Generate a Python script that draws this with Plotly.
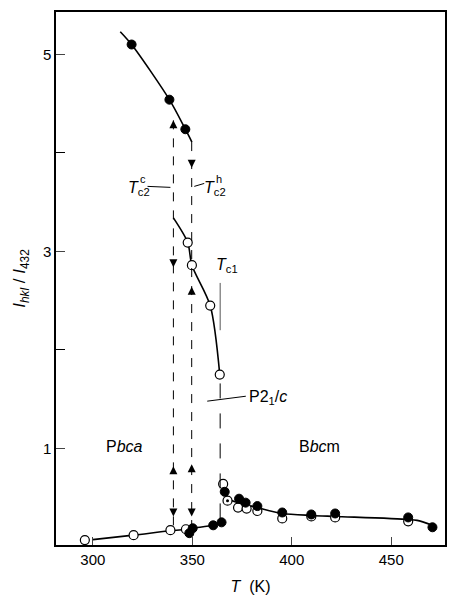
import plotly.graph_objects as go

# ---- data ----
# filled circles (heating)
fill_T = [319.5, 338.5, 346.5, 348.5, 350.2, 360.5, 364.7, 366.3, 373.5, 376.8, 382.7, 395.2, 409.8, 421.8, 458.5, 470.7]
fill_I = [5.10, 4.54, 4.24, 0.14, 0.19, 0.22, 0.25, 0.56, 0.49, 0.45, 0.415, 0.35, 0.33, 0.34, 0.30, 0.20]
# open circles (cooling)
open_T = [347.7, 349.8, 359.0, 363.8, 296.0, 320.5, 339.0, 346.8, 365.5, 373.0, 377.3, 382.7, 395.2, 409.8, 421.8, 458.5]
open_I = [3.09, 2.86, 2.45, 1.75, 0.07, 0.12, 0.17, 0.18, 0.64, 0.40, 0.39, 0.365, 0.29, 0.31, 0.30, 0.26]
# dotted circle
dot_T = [367.7]
dot_I = [0.47]

# smooth curves drawn through the data
curveA_T = [313.8, 319.5, 338.5, 346.5, 349.8]
curveA_I = [5.23, 5.10, 4.54, 4.24, 4.11]
curveB_T = [340.5, 347.7, 349.8, 359.0, 363.8]
curveB_I = [3.34, 3.09, 2.86, 2.45, 1.75]
curveC_T = [300.0, 320.5, 339.0, 348.0, 350.2, 360.5, 364.7]
curveC_I = [0.075, 0.12, 0.165, 0.18, 0.19, 0.22, 0.25]
curveD_T = [366.3, 369.0, 376.8, 382.7, 395.2, 409.8, 421.8, 458.5, 463.0, 470.7]
curveD_I = [0.56, 0.48, 0.43, 0.40, 0.34, 0.32, 0.31, 0.28, 0.27, 0.22]

# transition temperatures (dashed lines)
Tc2_c = 340.5
Tc2_h = 349.7
Tc1 = 364.0

# arrow tips on the dashed lines
up_T = [340.5, 349.7, 340.5, 349.7]
up_I = [4.33, 2.64, 0.82, 0.84]
down_T = [340.5, 349.7, 340.5, 349.7]
down_I = [2.84, 3.85, 0.31, 0.31]

x_ticks = [300, 350, 400, 450]

FONT = "Liberation Sans"

fig = go.Figure()

for T, I in [(curveA_T, curveA_I), (curveB_T, curveB_I), (curveC_T, curveC_I), (curveD_T, curveD_I)]:
    fig.add_trace(go.Scatter(x=T, y=I, mode="lines", line=dict(color="black", width=1.6, shape="spline", smoothing=0.8),
                             hoverinfo="skip", showlegend=False))

fig.add_trace(go.Scatter(x=open_T, y=open_I, mode="markers",
                         marker=dict(symbol="circle", size=9, color="white", line=dict(color="black", width=1.2)),
                         showlegend=False))
fig.add_trace(go.Scatter(x=fill_T, y=fill_I, mode="markers",
                         marker=dict(symbol="circle", size=9, color="black", line=dict(color="black", width=1)),
                         showlegend=False))
fig.add_trace(go.Scatter(x=dot_T, y=dot_I, mode="markers",
                         marker=dict(symbol="circle", size=9, color="white", line=dict(color="black", width=1.2)),
                         showlegend=False))
fig.add_trace(go.Scatter(x=dot_T, y=dot_I, mode="markers",
                         marker=dict(symbol="circle", size=3, color="black"),
                         showlegend=False))

# dashed vertical lines
fig.add_shape(type="line", x0=Tc2_c, x1=Tc2_c, y0=4.33, y1=0.15, line=dict(color="black", width=1, dash="dash"))
fig.add_shape(type="line", x0=Tc2_h, x1=Tc2_h, y0=4.11, y1=0.17, line=dict(color="black", width=1, dash="dash"))
fig.add_shape(type="line", x0=Tc1, x1=Tc1, y0=1.66, y1=0.26, line=dict(color="black", width=1, dash="longdash"))
fig.add_shape(type="line", x0=Tc1, x1=Tc1, y0=2.68, y1=2.20, line=dict(color="#555", width=1))

# leader lines
fig.add_shape(type="line", x0=327.5, x1=339.0, y0=3.66, y1=3.65, line=dict(color="black", width=1))
fig.add_shape(type="line", x0=351.0, x1=356.0, y0=3.66, y1=3.69, line=dict(color="black", width=1))
fig.add_shape(type="line", x0=357.5, x1=376.9, y0=1.48, y1=1.53, line=dict(color="black", width=1))

# arrow heads (tip at the data point)
fig.add_trace(go.Scatter(x=up_T, y=up_I, mode="markers", hoverinfo="skip", showlegend=False,
                         marker=dict(symbol="arrow-up", size=8, color="black", line=dict(width=0))))
fig.add_trace(go.Scatter(x=down_T, y=down_I, mode="markers", hoverinfo="skip", showlegend=False,
                         marker=dict(symbol="arrow-down", size=8, color="black", line=dict(width=0))))

def label(x, y, text, anchor="center", size=16):
    fig.add_annotation(x=x, y=y, text=text, showarrow=False, xanchor=anchor, yanchor="middle",
                       font=dict(family=FONT, size=size, color="black"))

label(323.0, 3.64, "<i>T</i><sub>c2</sub>")
label(322.6, 3.73, "c", anchor="left", size=11)
label(361.5, 3.64, "<i>T</i><sub>c2</sub>")
label(361.1, 3.73, "h", anchor="left", size=11)
label(367.5, 2.86, "<i>T</i><sub>c1</sub>")
label(377.5, 1.52, "P2<sub>1</sub>/<i>c</i>", anchor="left")
label(316.0, 1.02, "P<i>bca</i>")
label(414.0, 1.02, "B<i>bc</i>m")

fig.update_layout(
    width=450, height=596,
    margin=dict(l=56, r=3, t=12, b=50),
    paper_bgcolor="white", plot_bgcolor="white",
    font=dict(family=FONT, size=15, color="black"),
    showlegend=False,
)
fig.update_xaxes(range=[281.5, 477], tickvals=x_ticks, ticks="inside", ticklen=8, tickwidth=1,
                 showline=True, linecolor="black", linewidth=1.5, mirror=True, showgrid=False, zeroline=False,
                 title=dict(text="<i>T</i>  (K)", standoff=14, font=dict(size=16)),
                 tickfont=dict(size=15))
fig.update_yaxes(range=[0.02, 5.43], tick0=1, dtick=2, ticks="inside", ticklen=9, tickwidth=1,
                 minor=dict(tick0=1, dtick=1, ticks="inside", ticklen=9, tickwidth=1, tickcolor="black", showgrid=False),
                 showline=True, linecolor="black", linewidth=1.5, mirror=True, showgrid=False, zeroline=False,
                 title=dict(text="<i>I<sub>hkl</sub></i> / <i>I</i><sub>432</sub>", standoff=13, font=dict(size=17)),
                 tickfont=dict(size=15))

fig.write_html("out.html")
